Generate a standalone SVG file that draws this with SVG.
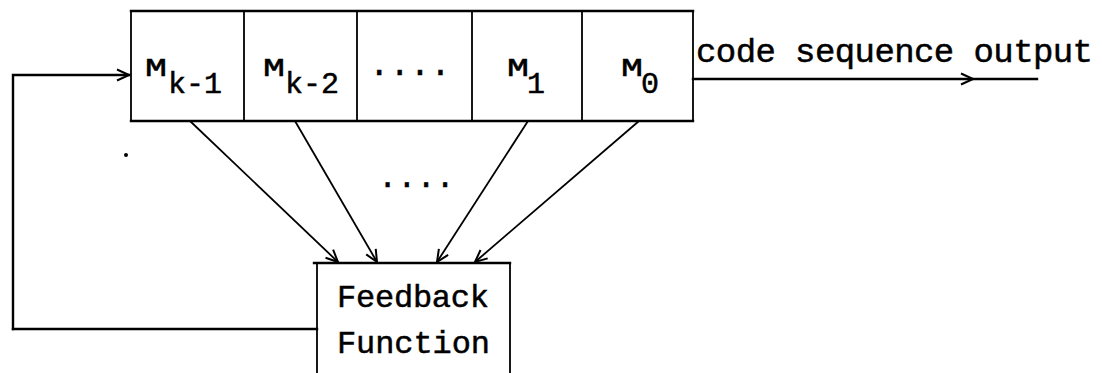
<svg xmlns="http://www.w3.org/2000/svg" width="1102" height="373" viewBox="0 0 1102 373">
  <style>
    .ln { stroke: #000; stroke-width: 2.4; fill: none; stroke-linecap: square; }
    .thin { stroke: #000; stroke-width: 1.8; fill: none; }
    .tw { font-family: "Liberation Mono", "Courier New", monospace; fill: #000; stroke: #000; stroke-width: 0.5; }
    .big { font-size: 34px; }
    .mid { font-size: 32px; }
    .sub { font-size: 30px; }
    .m { font-size: 25px; }
  </style>
  <defs>
    <marker id="vee" viewBox="-14 -7 16 14" refX="0" refY="0" markerWidth="16" markerHeight="14" markerUnits="userSpaceOnUse" orient="auto">
      <path d="M-12,-5.5 L0,0 L-12,5.5" fill="none" stroke="#000" stroke-width="2"/>
    </marker>
  </defs>
  <rect width="1102" height="373" fill="#fff"/>

  <!-- shift register: five cells -->
  <g id="register">
    <path class="ln" d="M131,11 H693 M131,121 H693"/>
    <path class="thin" d="M131,11 V121 M244,11 V121 M357,11 V121 M472,11 V121 M582,11 V121 M693,11 V121"/>
  </g>
  <g id="cell-mk1">
    <text class="tw m" x="145" y="76" textLength="22" lengthAdjust="spacingAndGlyphs">M</text>
    <text class="tw sub" x="168" y="93">k-1</text>
  </g>
  <g id="cell-mk2">
    <text class="tw m" x="263" y="76" textLength="22" lengthAdjust="spacingAndGlyphs">M</text>
    <text class="tw sub" x="285" y="93">k-2</text>
  </g>
  <g id="cell-dots">
    <text class="tw big" x="369" y="75">....</text>
  </g>
  <g id="cell-m1">
    <text class="tw m" x="507" y="76" textLength="22" lengthAdjust="spacingAndGlyphs">M</text>
    <text class="tw sub" x="527" y="93">1</text>
  </g>
  <g id="cell-m0">
    <text class="tw m" x="621" y="76" textLength="22" lengthAdjust="spacingAndGlyphs">M</text>
    <text class="tw sub" x="641" y="93">0</text>
  </g>

  <!-- feedback function block, open at the bottom edge -->
  <g id="feedback">
    <path class="ln" d="M314,263 H510"/>
    <path class="thin" d="M317,263 V375 M510,263 V375"/>
    <text class="tw mid" x="337" y="307" textLength="152">Feedback</text>
    <text class="tw mid" x="337" y="353" textLength="153">Function</text>
  </g>

  <!-- output label -->
  <g id="output-label">
    <text class="tw big" x="696" y="62" textLength="397">code sequence output</text>
  </g>

  <!-- connectors -->
  <g id="connectors">
    <path class="ln" d="M13,329 V75 H129" marker-end="url(#vee)"/>
    <path class="ln" d="M317,329 H13"/>
    <polyline class="ln" points="693,79 973,79 1037,79" marker-mid="url(#vee)"/>
    <line class="thin" x1="190" y1="121" x2="338" y2="262" marker-end="url(#vee)"/>
    <line class="thin" x1="295" y1="121" x2="377" y2="262" marker-end="url(#vee)"/>
    <line class="thin" x1="528" y1="121" x2="437" y2="262" marker-end="url(#vee)"/>
    <line class="thin" x1="639" y1="121" x2="475" y2="262" marker-end="url(#vee)"/>
    <text class="tw mid" x="378" y="187">....</text>
  </g>

  <!-- stray speck -->
  <circle cx="126" cy="155" r="2" fill="#000"/>
</svg>
